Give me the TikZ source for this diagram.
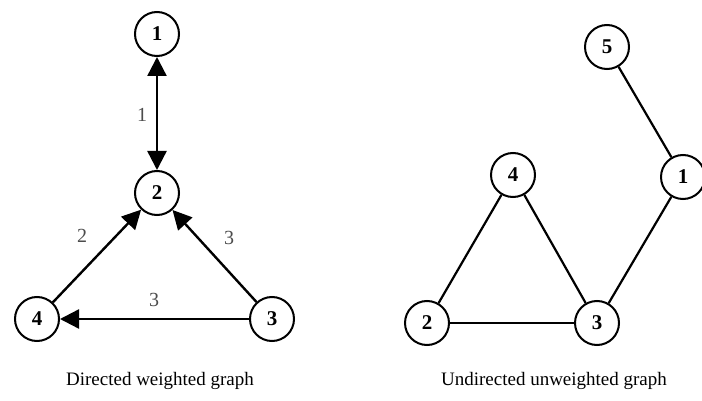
\documentclass[tikz,border=0pt]{standalone}
\usepackage{fontspec}
\setmainfont{Liberation Serif}
\usetikzlibrary{arrows.meta}
\begin{document}
\begin{tikzpicture}[x=1pt,y=-1pt,
  vert/.style={circle,draw,line width=2pt,minimum size=44pt,inner sep=0pt,font=\fontsize{21}{21}\selectfont\bfseries},
  tip/.style={Triangle[length=19pt,width=19pt]},
  dedge/.style={line width=2.4pt,-{Triangle[length=19pt,width=19pt]}},
  uedge/.style={line width=2.2pt},
  wlabel/.style={font=\fontsize{20}{20}\selectfont,text=black!70},
  captiontext/.style={font=\fontsize{19}{19}\selectfont}]
\useasboundingbox (0,0) rectangle (702,401);
% directed graph
\node[vert] (a1) at (157,34) {1};
\node[vert] (a2) at (157,193) {2};
\node[vert] (a4) at (37,319) {4};
\node[vert] (a3) at (272,319) {3};
\draw[line width=2.4pt,{Triangle[length=19pt,width=19pt]}-{Triangle[length=19pt,width=19pt]}] (a2) -- (a1);
\draw[dedge] (a4) -- (a2);
\draw[dedge] (a3) -- (a2);
\draw[dedge] (a3) -- (a4);
\node[wlabel] (w1) at (142,115) {1};
\node[wlabel] (w2) at (82,236) {2};
\node[wlabel] (w3) at (229,238) {3};
\node[wlabel] (w4) at (154,300) {3};
\node[captiontext] (c1) at (160,381) {Directed weighted graph};
% undirected graph
\node[vert] (b5) at (607,47) {5};
\node[vert] (b1) at (683,177) {1};
\node[vert] (b4) at (513,175) {4};
\node[vert] (b2) at (427,323) {2};
\node[vert] (b3) at (597,323) {3};
\draw[uedge] (b5) -- (b1);
\draw[uedge] (b1) -- (b3);
\draw[uedge] (b4) -- (b3);
\draw[uedge] (b4) -- (b2);
\draw[uedge] (b2) -- (b3);
\node[captiontext] (c2) at (554,381) {Undirected unweighted graph};
\end{tikzpicture}
\end{document}
